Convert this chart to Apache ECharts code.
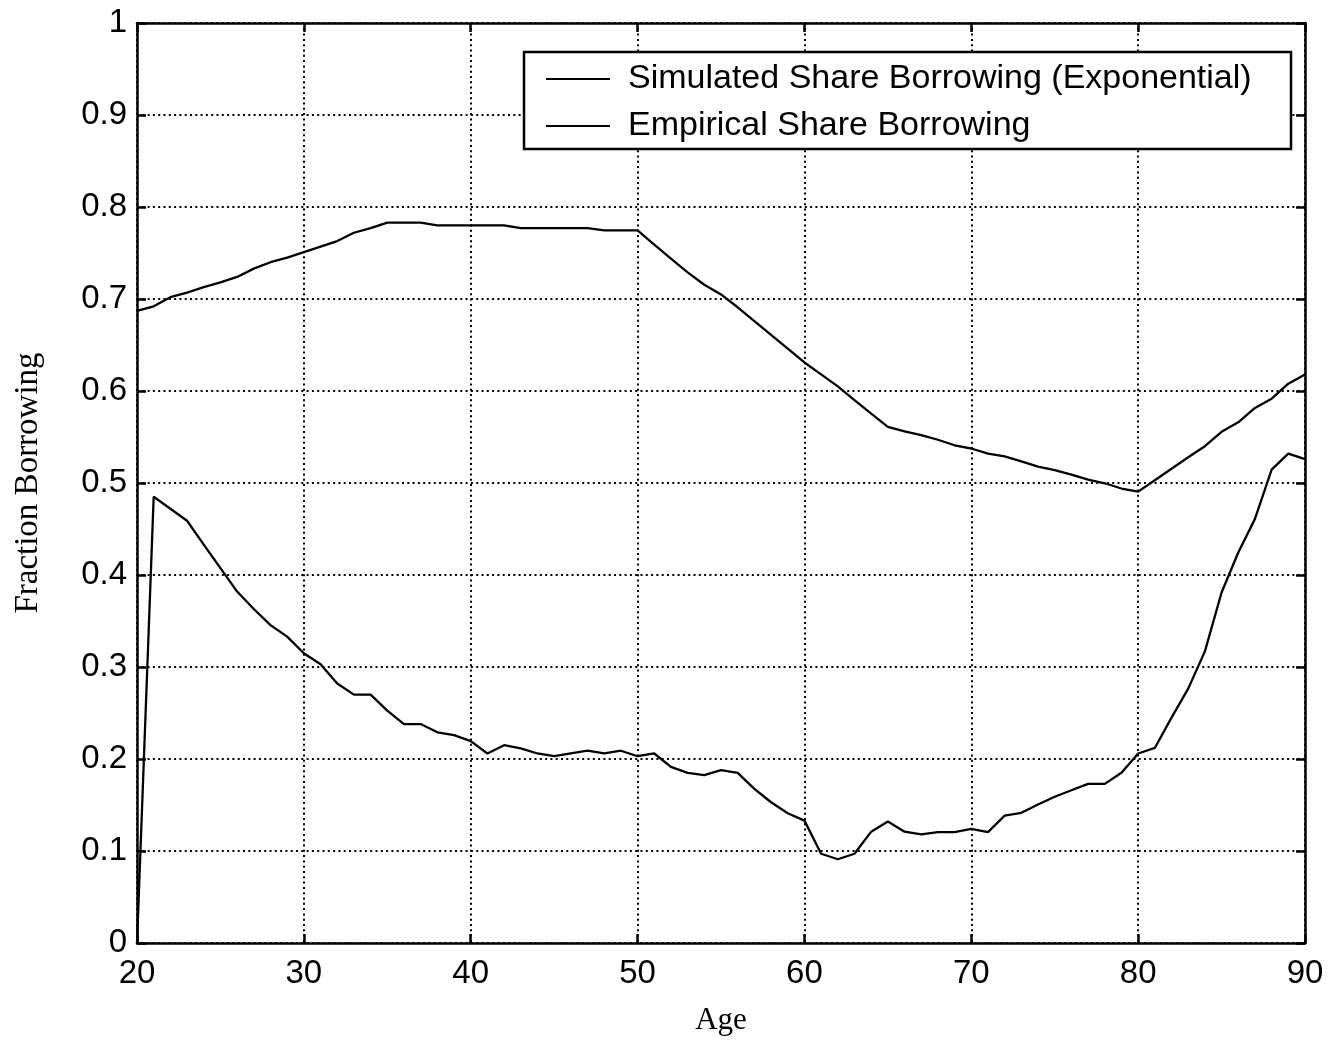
<!DOCTYPE html>
<html>
<head>
<meta charset="utf-8">
<script src="https://cdn.jsdelivr.net/npm/echarts@6/dist/echarts.min.js"></script>
<style>
html,body{margin:0;padding:0;background:#fff;}
#chart{width:1344px;height:1043px;}
</style>
</head>
<body>
<div id="chart"></div>
<script>
var ages = [];
for (var a = 20; a <= 90; a++) ages.push(a);

var simulatedShare = [
  0.687,0.692,0.702,0.707,0.713,0.718,0.724,0.733,0.740,0.745,
  0.751,0.757,0.763,0.772,0.777,0.783,0.783,0.783,0.780,0.780,
  0.780,0.780,0.780,0.777,0.777,0.777,0.777,0.777,0.7745,0.7745,
  0.7745,0.759,0.744,0.729,0.7155,0.705,0.691,0.676,0.661,0.646,
  0.631,0.618,0.605,0.590,0.5755,0.561,0.556,0.552,0.547,0.541,
  0.5375,0.532,0.529,0.5235,0.5177,0.514,0.509,0.5036,0.4997,0.494,
  0.4906,0.503,0.5155,0.528,0.540,0.5556,0.566,0.5816,0.5917,0.608,
  0.618
];

var empiricalShare = [
  0.000,0.485,0.472,0.459,0.433,0.4075,0.382,0.363,0.3455,0.333,
  0.315,0.303,0.282,0.270,0.270,0.2525,0.238,0.238,0.229,0.226,
  0.2195,0.206,0.215,0.2115,0.206,0.203,0.206,0.209,0.206,0.209,
  0.203,0.206,0.1915,0.185,0.1825,0.188,0.185,0.1675,0.153,0.141,
  0.133,0.097,0.091,0.097,0.121,0.132,0.121,0.118,0.1205,0.1205,
  0.124,0.1205,0.1385,0.1415,0.1505,0.159,0.166,0.173,0.173,0.185,
  0.206,0.212,0.245,0.2765,0.317,0.381,0.4245,0.461,0.5145,0.532,
  0.526
];

var seriesNames = ['Simulated Share Borrowing (Exponential)', 'Empirical Share Borrowing'];
var xAxisName = 'Age';
var yAxisName = 'Fraction Borrowing';

function pairs(vals) {
  return ages.map(function (x, i) { return [x, vals[i]]; });
}

var sansFont = '"Liberation Sans", Arial, Helvetica, sans-serif';
var serifFont = '"Liberation Serif", "Times New Roman", serif';
var gridLine = { show: true, lineStyle: { color: '#000', width: 2, type: [2, 3.3] } };
var axisLine = { show: true, onZero: false, lineStyle: { color: '#000', width: 2.5 } };
var tickIn = { show: true, inside: true, length: 9, lineStyle: { color: '#000', width: 2.5 } };

var chart = echarts.init(document.getElementById('chart'), null, { renderer: 'canvas' });
chart.setOption({
  backgroundColor: '#fff',
  animation: false,
  grid: { left: 137, right: 39, top: 23, bottom: 100, containLabel: false },
  legend: {
    orient: 'vertical',
    left: 524,
    top: 52,
    padding: [9, 23, 5, 22],
    itemGap: 11,
    itemWidth: 64,
    itemHeight: 2,
    icon: 'rect',
    borderColor: '#000',
    borderWidth: 2.5,
    backgroundColor: '#fff',
    textStyle: { fontFamily: sansFont, fontSize: 34, color: '#000', lineHeight: 36, padding: [0, 0, 0, 13], width: 640 },
    data: seriesNames
  },
  xAxis: [{
    type: 'value', min: 20, max: 90, interval: 10,
    name: xAxisName, nameLocation: 'middle', nameGap: 62,
    nameTextStyle: { fontFamily: serifFont, fontSize: 31, color: '#000' },
    axisLine: axisLine, axisTick: tickIn, splitLine: gridLine,
    axisLabel: { fontFamily: sansFont, fontSize: 33, color: '#000', margin: 14 }
  }, {
    type: 'value', min: 20, max: 90, interval: 10, position: 'top',
    axisLine: axisLine, axisTick: tickIn, splitLine: { show: false }, axisLabel: { show: false }
  }],
  yAxis: [{
    type: 'value', min: 0, max: 1, interval: 0.1,
    name: yAxisName, nameLocation: 'middle', nameGap: 92,
    nameTextStyle: { fontFamily: serifFont, fontSize: 33, color: '#000' },
    axisLine: axisLine, axisTick: tickIn, splitLine: gridLine,
    axisLabel: { fontFamily: sansFont, fontSize: 33, color: '#000', margin: 10,
      formatter: function (v) { return String(Math.round(v * 10) / 10); } }
  }, {
    type: 'value', min: 0, max: 1, interval: 0.1, position: 'right',
    axisLine: axisLine, axisTick: tickIn, splitLine: { show: false }, axisLabel: { show: false }
  }],
  series: [{
    name: seriesNames[0], type: 'line', data: pairs(simulatedShare),
    showSymbol: false, symbol: 'none', color: '#000',
    lineStyle: { color: '#000', width: 2.3 }, itemStyle: { color: '#000' }
  }, {
    name: seriesNames[1], type: 'line', data: pairs(empiricalShare),
    showSymbol: false, symbol: 'none', color: '#000',
    lineStyle: { color: '#000', width: 2.3 }, itemStyle: { color: '#000' }
  }]
});
</script>
</body>
</html>
